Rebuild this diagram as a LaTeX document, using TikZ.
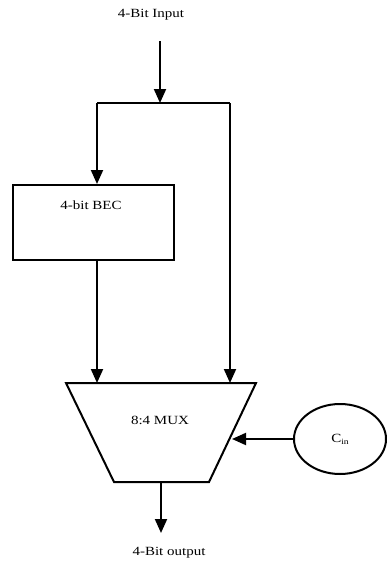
\documentclass[tikz,border=0pt]{standalone}
\usepackage{fontspec}
\setmainfont[FakeStretch=1.2]{Liberation Serif}
\usetikzlibrary{arrows.meta,shapes.geometric}
\begin{document}
\begin{tikzpicture}[x=1pt,y=-1pt,
  line width=2pt,
  lbl/.style={font=\fontsize{12.5}{14}\selectfont, inner sep=0pt},
  arr/.style={-{Triangle[length=14pt,width=12pt]}},
  box/.style={draw, minimum width=161pt, minimum height=75pt, anchor=north west, inner sep=0pt}]
\useasboundingbox (0,0) rectangle (387,562);
\node[lbl] (in) at (151,15) {4-Bit Input};
\coordinate (inA) at (160,41);
\coordinate (inB) at (160,103);
\coordinate (jl) at (97,103);
\coordinate (jr) at (230,103);
\node[box] (bec) at (12,184) {};
\node[lbl] (bect) at (91,205) {4-bit BEC};
\coordinate (muxTL) at (66,383);
\coordinate (muxTR) at (256,383);
\coordinate (muxBR) at (209,482);
\coordinate (muxBL) at (114,482);
\draw (muxTL) -- (muxTR) -- (muxBR) -- (muxBL) -- cycle;
\node[lbl] (mux) at (160,420) {8:4 MUX};
\node[draw, ellipse, minimum width=92pt, minimum height=70pt, inner sep=0pt] (cin) at (340,439) {};
\node[lbl] at (cin.center) {C\raisebox{-0.35ex}{\fontsize{8}{8}\selectfont in}};
\coordinate (muxR) at (232,439);
\coordinate (outA) at (161,482);
\coordinate (outB) at (161,533);
\node[lbl] (out) at (169,553) {4-Bit output};
\draw[arr] (inA) -- (inB);
\draw (jl) -- (jr);
\draw[arr] (jl) -- (bec.north west -| jl);
\draw[arr] (jr) -- (jr |- muxTR);
\draw[arr] (bec.south west -| jl) -- (jl |- muxTL);
\draw[arr] (cin.west) -- (muxR);
\draw[arr] (outA) -- (outB);
\end{tikzpicture}
\end{document}
